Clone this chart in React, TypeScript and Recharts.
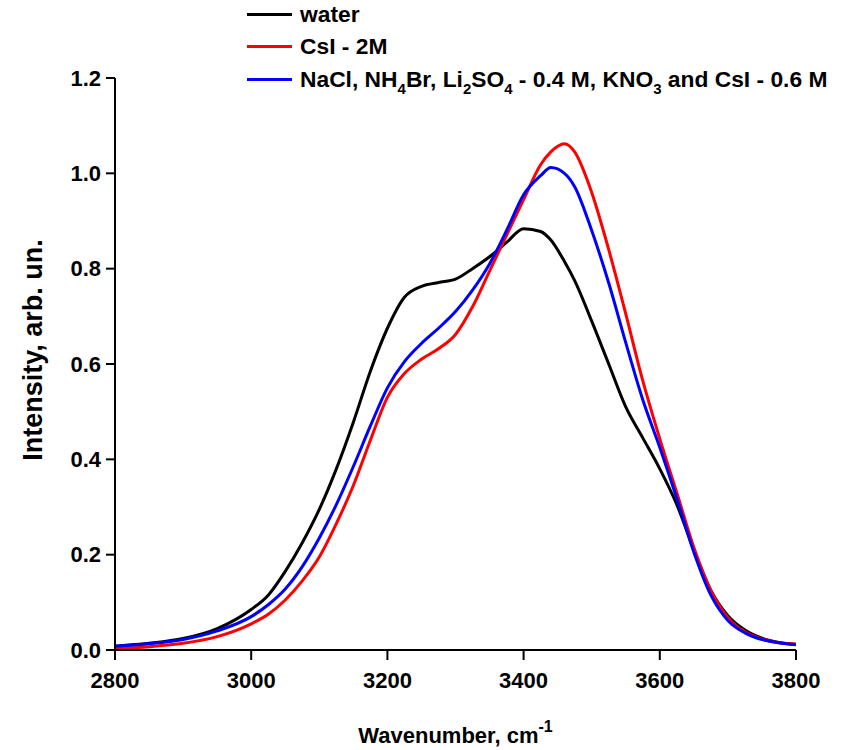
import { Label, Line, LineChart, XAxis, YAxis } from "recharts";

const FONT = "'Liberation Sans', Arial, sans-serif";

// wavenumber grid, cm-1
const wavenumbers = [
  2800, 2850, 2900, 2950, 3000, 3025, 3050, 3075, 3100, 3125, 3150, 3175, 3200, 3225, 3250, 3275, 3300, 3325, 3350,
  3375, 3400, 3425, 3440, 3460, 3475, 3500, 3525, 3550, 3575, 3600, 3625, 3650, 3675, 3700, 3725, 3750, 3775, 3800,
];

const water = [
  0.008, 0.014, 0.024, 0.045, 0.085, 0.115, 0.165, 0.225, 0.295, 0.38, 0.478, 0.585, 0.675, 0.74, 0.763, 0.771, 0.778,
  0.8, 0.825, 0.855, 0.884, 0.878, 0.86, 0.815, 0.775, 0.69, 0.6, 0.51, 0.445, 0.38, 0.305, 0.21, 0.125, 0.072, 0.042,
  0.025, 0.016, 0.012,
];

const csi2M = [
  0.003, 0.007, 0.014, 0.028, 0.055, 0.075, 0.105, 0.145, 0.195, 0.265, 0.345, 0.44, 0.53, 0.58, 0.61, 0.632, 0.662,
  0.72, 0.795, 0.87, 0.945, 1.018, 1.045, 1.062, 1.045, 0.96, 0.84, 0.705, 0.565, 0.443, 0.33, 0.215, 0.125, 0.068,
  0.038, 0.023, 0.015, 0.012,
];

const mixture = [
  0.008, 0.013, 0.022, 0.04, 0.07, 0.095, 0.128, 0.175, 0.235, 0.305, 0.385, 0.47, 0.55, 0.605, 0.643, 0.675, 0.71,
  0.755, 0.81, 0.88, 0.955, 0.995, 1.012, 1.0, 0.972, 0.88, 0.77, 0.645, 0.525, 0.425, 0.318, 0.205, 0.115, 0.062, 0.036,
  0.022, 0.015, 0.011,
];

const xTicks = [2800, 3000, 3200, 3400, 3600, 3800];
const yTicks = [0, 0.2, 0.4, 0.6, 0.8, 1.0, 1.2];

const data = wavenumbers.map((x, i) => ({ x, water: water[i], csi: csi2M[i], mix: mixture[i] }));

const series = [
  { key: "water", color: "#000000" },
  { key: "csi", color: "#ff0000" },
  { key: "mix", color: "#0000ff" },
];

const tickStyle = { fill: "#000", fontSize: 22, fontWeight: 700, fontFamily: FONT };
const axisStroke = { stroke: "#000", strokeWidth: 2 };

function LegendBlock() {
  const sub = { fontSize: 15, position: "relative", top: 7 } as const;
  const rows = [
    { color: "#000000", text: <>water</> },
    { color: "#ff0000", text: <>CsI - 2M</> },
    {
      color: "#0000ff",
      text: (
        <>
          NaCl, NH<span style={sub}>4</span>Br, Li<span style={sub}>2</span>SO<span style={sub}>4</span> - 0.4 M, KNO
          <span style={sub}>3</span> and CsI - 0.6 M
        </>
      ),
    },
  ];
  return (
    <div style={{ position: "absolute", left: 247, top: -2, fontFamily: FONT, fontWeight: 700, fontSize: 22.8 }}>
      {rows.map((r, i) => (
        <div key={i} style={{ display: "flex", alignItems: "center", height: 32.5, whiteSpace: "nowrap" }}>
          <div style={{ width: 45, height: 3, background: r.color, marginRight: 8 }} />
          <span>{r.text}</span>
        </div>
      ))}
    </div>
  );
}

export default function App() {
  return (
    <div style={{ position: "absolute", left: 0, top: 0, width: 848, height: 750, background: "#fff" }}>
      <LineChart width={848} height={750} data={data} margin={{ top: 78, right: 52, left: 55, bottom: 40 }}>
        <XAxis
          type="number"
          dataKey="x"
          domain={[2800, 3800]}
          ticks={xTicks}
          tick={tickStyle}
          tickSize={10}
          tickMargin={12}
          axisLine={axisStroke}
          tickLine={axisStroke}
          height={60}
          allowDataOverflow
        >
          <Label
            content={({ viewBox }: any) => (
              <text
                x={viewBox.x + viewBox.width / 2}
                y={viewBox.y + 93}
                textAnchor="middle"
                fontFamily={FONT}
                fontWeight={700}
                fontSize={22}
                fill="#000"
              >
                Wavenumber, cm
                <tspan dy={-11} fontSize={16}>
                  -1
                </tspan>
              </text>
            )}
          />
        </XAxis>
        <YAxis
          type="number"
          domain={[0, 1.2]}
          ticks={yTicks}
          tickFormatter={(v: number) => v.toFixed(1)}
          tick={tickStyle}
          tickSize={9}
          tickMargin={5}
          axisLine={axisStroke}
          tickLine={axisStroke}
          width={60}
          allowDataOverflow
        >
          <Label
            content={({ viewBox }: any) => {
              const cx = 33;
              const cy = viewBox.y + viewBox.height / 2 - 14;
              return (
                <text
                  x={cx}
                  y={cy}
                  transform={`rotate(-90, ${cx}, ${cy})`}
                  textAnchor="middle"
                  dominantBaseline="central"
                  fontFamily={FONT}
                  fontWeight={700}
                  fontSize={27}
                  fill="#000"
                >
                  Intensity, arb. un.
                </text>
              );
            }}
          />
        </YAxis>
        {series.map((s) => (
          <Line
            key={s.key}
            dataKey={s.key}
            type="monotone"
            stroke={s.color}
            strokeWidth={3}
            dot={false}
            isAnimationActive={false}
          />
        ))}
      </LineChart>
      <LegendBlock />
    </div>
  );
}
